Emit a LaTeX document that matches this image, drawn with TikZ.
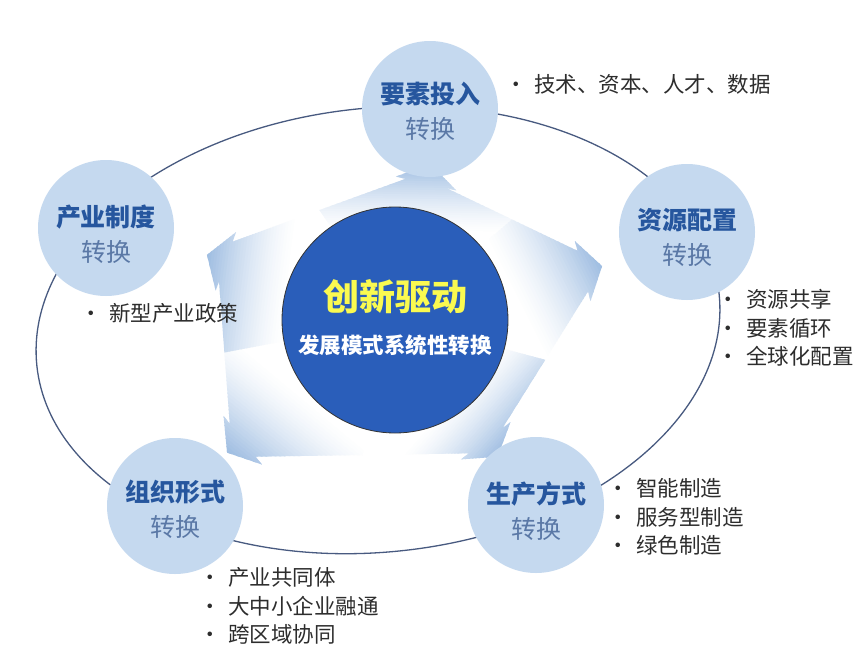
\documentclass[tikz,border=0pt]{standalone}
\usepackage{fontspec}
\setmainfont{Noto Sans CJK SC}
\usetikzlibrary{calc}
\definecolor{circblue}{RGB}{197,217,239}
\definecolor{arrblue}{RGB}{160,190,226}
\definecolor{corefill}{RGB}{42,94,186}
\definecolor{titleblue}{RGB}{38,86,158}
\definecolor{subblue}{RGB}{90,120,166}
\definecolor{ringline}{RGB}{72,90,128}
\definecolor{coreyellow}{RGB}{250,250,80}
\definecolor{bullettext}{RGB}{45,45,45}
\newcommand{\blt}[1]{\makebox[20pt][l]{\hspace*{-8.5pt}•}#1}
\begin{document}
\begin{tikzpicture}[x=1pt,y=-1pt,
  satellite/.style={circle, fill=circblue, minimum size=136pt, inner sep=0pt},
  sattext/.style={align=center, inner sep=0pt, font=\fontsize{25}{35}\selectfont, text=subblue},
  listtext/.style={anchor=west, align=left, inner sep=0pt, font=\fontsize{21.5}{28.3}\selectfont, text=bullettext},
  ring/.style={draw=ringline, line width=1.3pt}]
\useasboundingbox (0,0) rectangle (860,651);
\fill[white] (0,0) rectangle (860,651);

% outer ring
\draw[ring, rotate around={6:(378,330)}] (378,330) ellipse [x radius=343, y radius=222];

% arrow geometry
\coordinate (C) at (395,320);
\def\hw{21}\def\hb{31}\def\hl{20}
\foreach \k/\b/\d in {1/-77.2/140, 2/-14.6/194, 3/53.1/151, 4/141.7/194, 5/199.1/179}{
  \coordinate (Bm\k) at ($(C)+(\b:\d)+(\b-90:\hw)$);
  \coordinate (Hm\k) at ($(C)+(\b:\d)+(\b-90:\hb)$);
  \coordinate (T\k)  at ($(C)+(\b:\d+\hl)$);
  \coordinate (Hp\k) at ($(C)+(\b:\d)+(\b+90:\hb)$);
  \coordinate (Bp\k) at ($(C)+(\b:\d)+(\b+90:\hw)$);
}
\coordinate (M12) at ($(Bp1)!0.5!(Bm2)$);
\coordinate (M23) at ($(Bp2)!0.5!(Bm3)$);
\coordinate (M34) at ($(Bp3)!0.5!(Bm4)$);
\coordinate (M45) at ($(Bp4)!0.5!(Bm5)$);
\coordinate (M51) at ($(Bp5)!0.5!(Bm1)$);

\foreach \k/\p/\n/\b/\t in {1/5/2/-77.2/160, 2/1/3/-14.6/214, 3/2/4/53.1/171, 4/3/5/141.7/214, 5/4/1/199.1/199}{
  \begin{scope}
    \clip (C) -- (M\p\k) -- (Bm\k) -- (Hm\k) -- (T\k) -- (Hp\k) -- (Bp\k) -- (M\k\n) -- cycle;
    \pgfmathsetmacro\rot{12-\b}
    \pgfmathsetmacro\ua{0.55*\t}
    \pgfmathsetmacro\ub{0.97*\t}
    \begin{scope}[shift={(C)}, rotate=\rot]
      \fill[white] (-320,-320) rectangle (\ua+1,320);
      \foreach \i in {0,...,29}{
        \pgfmathsetmacro\xa{\ua+(\ub-\ua)*\i/30}
        \pgfmathsetmacro\xb{\ua+(\ub-\ua)*(\i+1)/30+1}
        \pgfmathsetmacro\pc{100*((\i+0.5)/30)^1.4}
        \fill[arrblue!\pc!white] (\xa,-320) rectangle (\xb,320);
      }
      \fill[arrblue] (\ub,-320) rectangle (320,320);
    \end{scope}
  \end{scope}
}

% satellites
\node[satellite] (s1) at (430,109) {};
\node[satellite] (s2) at (687,232) {};
\node[satellite] (s3) at (106,228) {};
\node[satellite] (s4) at (175,506) {};
\node[satellite] (s5) at (536,505) {};
\node[sattext] (s1t) at (430,111) {\textcolor{titleblue}{\bfseries 要素投入}\\转换};
\node[sattext] (s2t) at (687,237) {\textcolor{titleblue}{\bfseries 资源配置}\\转换};
\node[sattext] (s3t) at (106,234) {\textcolor{titleblue}{\bfseries 产业制度}\\转换};
\node[sattext] (s4t) at (175,509) {\textcolor{titleblue}{\bfseries 组织形式}\\转换};
\node[sattext] (s5t) at (536,511) {\textcolor{titleblue}{\bfseries 生产方式}\\转换};

% core
\node[circle, fill=corefill, draw=black!80, line width=0.8pt, minimum size=226pt, inner sep=0pt] (core) at (395,320) {};
\node[text=coreyellow, inner sep=0pt, font=\fontsize{36}{40}\selectfont\bfseries] (coret) at (395,297) {创新驱动};
\node[text=white, inner sep=0pt, font=\fontsize{21.5}{24}\selectfont\bfseries] (cores) at (395,345) {发展模式系统性转换};

% lists
\node[listtext] (l1) at (514,84) {\blt{技术、资本、人才、数据}};
\node[listtext] (l2) at (726,328) {\blt{资源共享}\\\blt{要素循环}\\\blt{全球化配置}};
\node[listtext] (l3) at (89,313) {\blt{新型产业政策}};
\node[listtext] (l4) at (616,517) {\blt{智能制造}\\\blt{服务型制造}\\\blt{绿色制造}};
\node[listtext] (l5) at (208,606) {\blt{产业共同体}\\\blt{大中小企业融通}\\\blt{跨区域协同}};
\end{tikzpicture}
\end{document}
